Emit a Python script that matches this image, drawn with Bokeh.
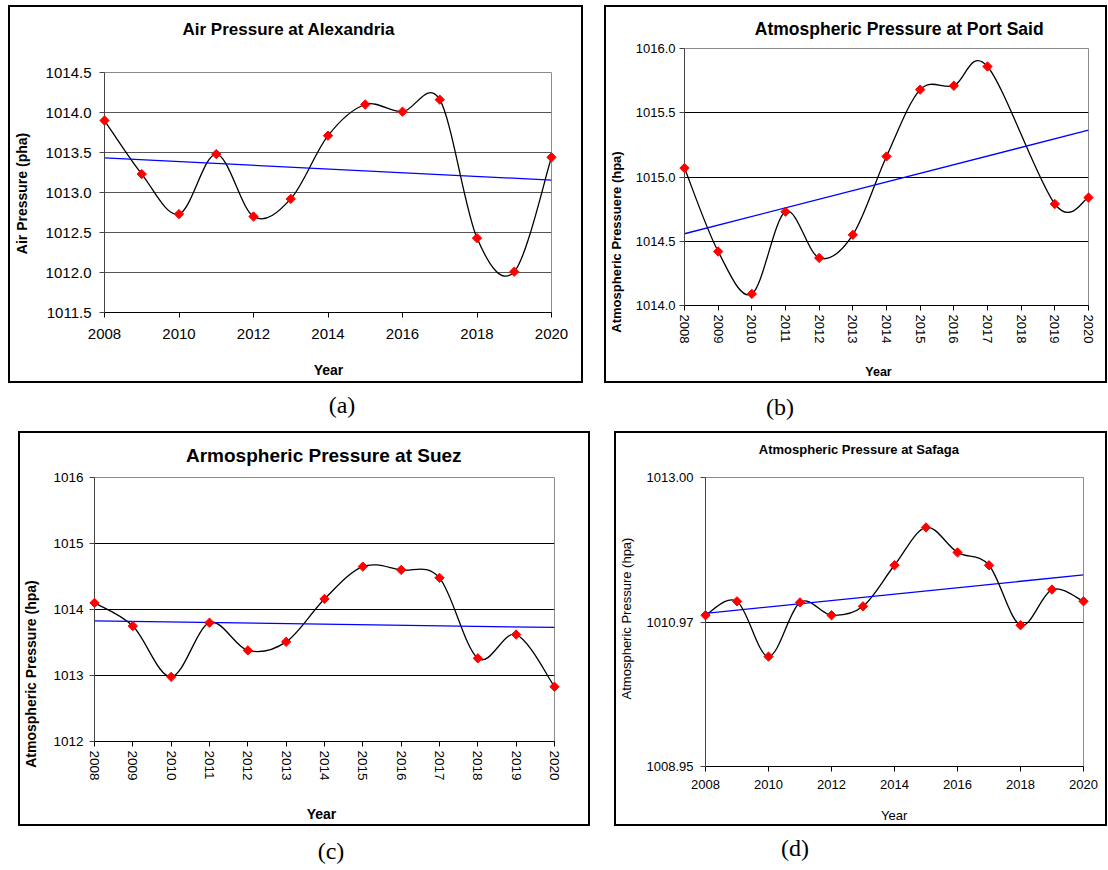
import math
import numpy as np
from bokeh.plotting import figure
from bokeh.models import Range1d, FixedTicker, NumeralTickFormatter, Div
from bokeh.layouts import column, row
from bokeh.core.properties import value
from bokeh.embed import file_html
from bokeh.resources import INLINE

# ---------------- data ----------------
years = [2008, 2009, 2010, 2011, 2012, 2013, 2014, 2015, 2016, 2017, 2018, 2019, 2020]
alexandria = [1013.90, 1013.23, 1012.73, 1013.48, 1012.70, 1012.92, 1013.71,
              1014.10, 1014.01, 1014.16, 1012.43, 1012.01, 1013.44]
port_said = [1015.07, 1014.42, 1014.09, 1014.73, 1014.37, 1014.55, 1015.16,
             1015.68, 1015.71, 1015.86, float("nan"), 1014.79, 1014.84]
suez = [1014.10, 1013.75, 1012.98, 1013.80, 1013.38, 1013.51, 1014.16,
        1014.65, 1014.60, 1014.48, 1013.26, 1013.62, 1012.83]
safaga = [1011.07, 1011.265, 1010.49, 1011.25, 1011.07, 1011.195, 1011.77,
          1012.30, 1011.95, 1011.77, 1010.93, 1011.43, 1011.265]

a_yticks = [1011.5, 1012.0, 1012.5, 1013.0, 1013.5, 1014.0, 1014.5]
b_yticks = [1014.0, 1014.5, 1015.0, 1015.5, 1016.0]
c_yticks = [1012, 1013, 1014, 1015, 1016]
d_yticks = [1008.95, 1010.97, 1013.00]
even_years = [2008, 2010, 2012, 2014, 2016, 2018, 2020]

FONT = "Liberation Sans"
BORDER = 2


def bezier_parts(xs, ys):
    pts = [(float(x), float(y)) for x, y in zip(xs, ys) if not math.isnan(y)]
    n = len(pts)
    out = {k: [] for k in ("x0", "y0", "x1", "y1", "cx0", "cy0", "cx1", "cy1")}
    for i in range(n - 1):
        p0 = pts[i - 1] if i > 0 else pts[i]
        p1 = pts[i]
        p2 = pts[i + 1]
        p3 = pts[i + 2] if i + 2 < n else pts[i + 1]
        out["x0"].append(p1[0]); out["y0"].append(p1[1])
        out["x1"].append(p2[0]); out["y1"].append(p2[1])
        out["cx0"].append(p1[0] + (p2[0] - p0[0]) / 6.0)
        out["cy0"].append(p1[1] + (p2[1] - p0[1]) / 6.0)
        out["cx1"].append(p2[0] - (p3[0] - p1[0]) / 6.0)
        out["cy1"].append(p2[1] - (p3[1] - p1[1]) / 6.0)
    return out


def make_panel(c):
    x0, y0, W, H = c["box"]
    FL, FR, FT, FB = c["frame"]
    cw, ch = W - 2 * BORDER, H - 2 * BORDER
    ox, oy = x0 + BORDER, y0 + BORDER
    p = figure(width=cw, height=ch, output_backend="svg", toolbar_location=None,
               x_range=Range1d(2008, 2020), y_range=Range1d(c["ylo"], c["yhi"]),
               min_border_left=FL - ox, min_border_right=ox + cw - FR,
               min_border_top=FT - oy, min_border_bottom=oy + ch - FB,
               background_fill_color="white", border_fill_color="white",
               outline_line_color="#8c8c8c", outline_line_width=1)
    p.xgrid.visible = False
    p.ygrid.ticker = FixedTicker(ticks=c["yticks"])
    p.ygrid.grid_line_color = c["grid"]
    p.ygrid.grid_line_width = 1

    p.xaxis.ticker = FixedTicker(ticks=c["xticks"])
    p.yaxis.ticker = FixedTicker(ticks=c["yticks"])
    p.yaxis.formatter = NumeralTickFormatter(format=c["fmt"])
    for ax in (p.xaxis, p.yaxis):
        ax.major_tick_out = 5
        ax.major_tick_in = 0
        ax.minor_tick_line_color = None
        ax.major_label_text_font = FONT
        ax.major_label_text_color = "black"
        ax.axis_line_width = 1
    p.xaxis.axis_line_color = "black"
    p.xaxis.major_tick_line_color = "black"
    p.yaxis.axis_line_color = "#444444"
    p.yaxis.major_tick_line_color = "#444444"
    p.xaxis.major_label_text_font_size = c["xtick_size"]
    p.yaxis.major_label_text_font_size = c["ytick_size"]
    p.xaxis.major_label_standoff = c["xstand"]
    p.yaxis.major_label_standoff = c["ystand"]
    if c["rotate"]:
        p.xaxis.major_label_orientation = "vertical"

    ys = c["values"]
    parts = bezier_parts(years, ys)
    p.bezier(**parts, line_color="black", line_width=1.3)

    xv = np.array([x for x, y in zip(years, ys) if not math.isnan(y)], dtype=float)
    yv = np.array([y for y in ys if not math.isnan(y)], dtype=float)
    slope, icpt = np.polyfit(xv, yv, 1)
    tx = [years[0], years[-1]]
    p.line(tx, [slope * t + icpt for t in tx], line_color="#0000ff", line_width=1.3)

    p.scatter(xv, yv, marker="square", size=6.6, angle=math.pi / 4,
              fill_color="#ff0000", line_color="#ff0000", level="overlay")

    ylo, yhi = c["ylo"], c["yhi"]

    def txt(X, Y, text, size, bold, angle=0.0, align="center"):
        # page-pixel position -> data position through the figure's own ranges
        xd = 2008 + (X - FL) / (FR - FL) * 12.0
        yd = ylo + (FB - Y) / (FB - FT) * (yhi - ylo)
        p.text(x=[xd], y=[yd], text=[text], angle=angle,
               text_align=value(align), text_baseline=value("middle"),
               text_font=value(FONT), text_font_size=value(size),
               text_font_style=value("bold" if bold else "normal"),
               text_color="black", level="overlay")

    tx_, ty_, tsize = c["title_pos"]
    txt(tx_, ty_, c["title"], tsize, True, align="left")
    yx, yy, ysz, yb = c["ylab_pos"]
    txt(yx, yy, c["ylab"], ysz, yb, angle=math.pi / 2)
    xx, xy, xsz, xb = c["xlab_pos"]
    txt(xx, xy, "Year", xsz, xb)

    wrap = column(p, margin=c["margin"],
                  styles={"border": f"{BORDER}px solid black", "background": "white"})
    return wrap


cfg_a = dict(box=(8, 5, 575, 378), frame=(104, 551, 72, 312), margin=(5, 0, 0, 8),
             ylo=1011.5, yhi=1014.5, yticks=a_yticks, xticks=even_years, fmt="0.0",
             grid="#555555", xtick_size="15px", ytick_size="15px", xstand=11, ystand=8,
             rotate=False, values=alexandria,
             title="Air Pressure at Alexandria", title_pos=(182, 28.7, "17px"),
             ylab="Air Pressure (pha)", ylab_pos=(21, 193, "14px", True),
             xlab_pos=(328, 369.5, "14px", True))
cfg_b = dict(box=(604, 5, 503, 378), frame=(684, 1088, 48, 305), margin=(5, 0, 0, 21),
             ylo=1014.0, yhi=1016.0, yticks=b_yticks, xticks=years, fmt="0.0",
             grid="black", xtick_size="13px", ytick_size="13px", xstand=4, ystand=4,
             rotate=True, values=port_said,
             title="Atmospheric Pressure at Port Said", title_pos=(754.3, 28.8, "17.5px"),
             ylab="Atmospheric Pressuere (hpa)", ylab_pos=(616, 241.5, "13px", True),
             xlab_pos=(878, 371.7, "12.5px", True))
cfg_c = dict(box=(18, 431, 572, 395), frame=(94, 554, 477, 741), margin=(0, 0, 0, 18),
             ylo=1012, yhi=1016, yticks=c_yticks, xticks=years, fmt="0",
             grid="black", xtick_size="13.5px", ytick_size="13.5px", xstand=4, ystand=6,
             rotate=True, values=suez,
             title="Armospheric Pressure at Suez", title_pos=(185.5, 455, "19px"),
             ylab="Atmospheric Pressure (hpa)", ylab_pos=(30.3, 673.5, "14px", True),
             xlab_pos=(321, 813, "14px", True))
cfg_d = dict(box=(614, 431, 493, 395), frame=(705, 1083, 477, 766), margin=(0, 0, 0, 24),
             ylo=1008.95, yhi=1013.00, yticks=d_yticks, xticks=even_years, fmt="0.00",
             grid="black", xtick_size="13px", ytick_size="13px", xstand=8, ystand=7,
             rotate=False, values=safaga,
             title="Atmospheric Pressure at Safaga", title_pos=(758.3, 449, "13px"),
             ylab="Atmospheric Pressure (hpa)", ylab_pos=(626, 618, "13px", False),
             xlab_pos=(893.7, 815, "13px", False))

pa = make_panel(cfg_a)
pb = make_panel(cfg_b)
pc = make_panel(cfg_c)
pd = make_panel(cfg_d)


def cap(text, left, h, lh):
    return Div(text=text, width=60, height=h, margin=(0, 0, 0, left),
               styles={"font-family": "Liberation Serif", "font-size": "24px",
                       "line-height": lh, "text-align": "center", "color": "black"})


layout = column(
    row(pa, pb),
    row(cap("(a)", 312, 48, "44px"), cap("(b)", 378, 48, "48px")),
    row(pc, pd),
    row(cap("(c)", 301, 44, "50px"), cap("(d)", 404, 44, "44px")),
)

open("out.html", "w").write(file_html(layout, INLINE))
